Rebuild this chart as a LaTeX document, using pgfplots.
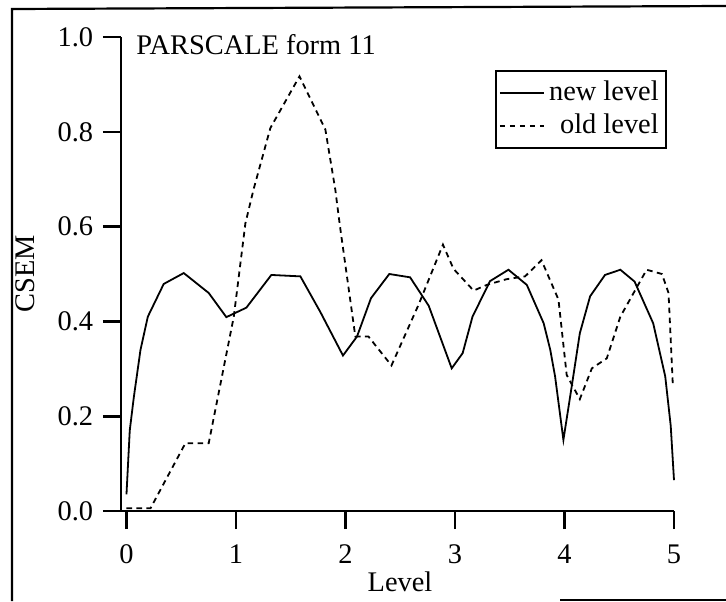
\documentclass[border=0pt]{standalone}
\usepackage{fontspec}
\setmainfont{Liberation Serif}
\usepackage{pgfplots}
\pgfplotsset{compat=1.18}
\begin{document}
\fontsize{14.2}{17}\selectfont
\begin{tikzpicture}[x=1pt,y=1pt]
\useasboundingbox (0,0) rectangle (363,300.5);
\draw[line width=1.1pt] (6,0) -- (6,296) -- (363,297.5);
\draw[line width=1.1pt] (280,0.6) -- (363,0.6);
\begin{axis}[
  at={(60.5pt,45pt)}, anchor=south west, scale only axis,
  width=276.5pt, height=237pt,
  xmin=-0.05, xmax=5, ymin=0, ymax=1,
  clip=false,
  axis lines=left,
  axis line style={-, line width=1.3pt},
  tick align=outside, major tick length=9pt,
  tick style={line width=1.3pt, black},
  xtick={0,1,2,3,4,5}, ytick={0,0.2,0.4,0.6,0.8,1.0},
  yticklabel style={/pgf/number format/.cd, fixed, fixed zerofill, precision=1},
  xticklabel style={yshift=-3pt},
  /pgf/number format/assume math mode=true,
  ticklabel style={font=\fontsize{14.2}{17}\selectfont},
  legend style={at={(rel axis cs:0.987,0.93)}, anchor=north east, draw=black, line width=1.1pt,
    font=\fontsize{14.2}{17}\selectfont, inner xsep=1.5pt, inner ysep=3pt, row sep=0.5pt},
  legend image code/.code={\draw[#1] (0cm,0cm) -- (0.78cm,0cm);},
  legend cell align=right,
]
\addplot[black, line width=0.9pt] coordinates {
(0,0.035) (0.03,0.17) (0.067,0.24) (0.128,0.34) (0.195,0.41) (0.34,0.479) (0.523,0.502)
(0.751,0.46) (0.912,0.409) (1.095,0.429) (1.323,0.498) (1.588,0.495) (1.77,0.42)
(1.977,0.328) (2.105,0.368) (2.233,0.449) (2.40,0.50) (2.59,0.493) (2.76,0.433)
(2.97,0.301) (3.07,0.333) (3.16,0.41) (3.32,0.485) (3.488,0.509) (3.656,0.477)
(3.81,0.396) (3.87,0.34) (3.914,0.284) (3.99,0.15) (4.066,0.263) (4.14,0.375) (4.234,0.453)
(4.37,0.498) (4.51,0.509) (4.64,0.484) (4.81,0.396) (4.92,0.284) (4.97,0.18) (5.0,0.065)
};
\addlegendentry{new level}
\addplot[black, line width=0.9pt, dash pattern=on 2.8pt off 2.2pt] coordinates {
(0,0.006) (0.22,0.006) (0.538,0.143) (0.751,0.143) (0.98,0.41) (1.086,0.607) (1.16,0.678)
(1.314,0.808) (1.58,0.917) (1.816,0.805) (1.907,0.678) (1.946,0.607) (2.09,0.368)
(2.21,0.368) (2.42,0.307) (2.667,0.435) (2.89,0.562) (2.986,0.511) (3.17,0.465)
(3.29,0.477) (3.47,0.489) (3.64,0.495) (3.79,0.529) (3.945,0.446) (4.02,0.287)
(4.14,0.236) (4.25,0.301) (4.386,0.322) (4.51,0.41) (4.75,0.509) (4.89,0.50)
(4.95,0.46) (4.99,0.262)
};
\addlegendentry{old level}
\end{axis}
\node[anchor=base west, inner sep=0pt] at (68,273) {PARSCALE form 11};
\node[rotate=90] at (12.5,163.5) {CSEM};
\node at (200,9.5) {Level};
\end{tikzpicture}
\end{document}
